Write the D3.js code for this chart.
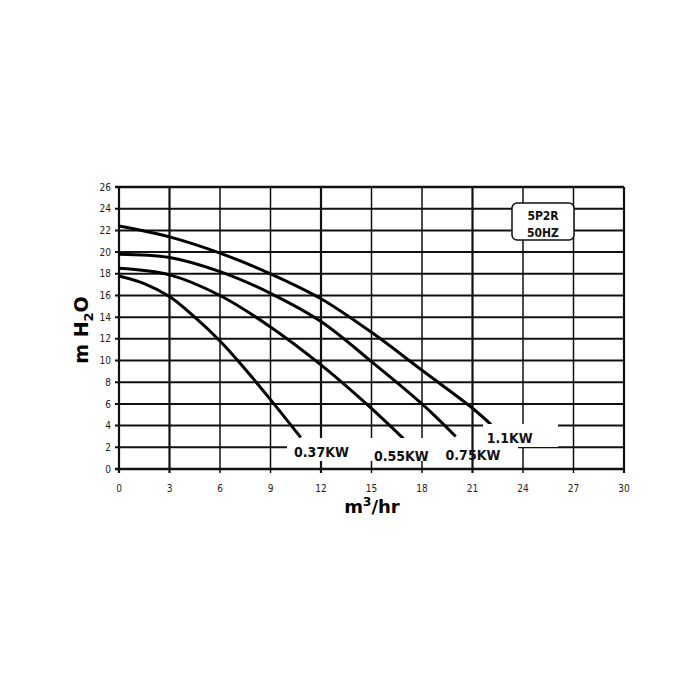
<!DOCTYPE html>
<html>
<head>
<meta charset="utf-8">
<script src="https://cdn.jsdelivr.net/npm/d3@7"></script>
<style>
  html, body { margin: 0; padding: 0; background: #fff; }
  svg { display: block; }
</style>
</head>
<body>
<script>
// Flow (m3/hr) and head (m H2O)
const xTicks = [0, 3, 6, 9, 12, 15, 18, 21, 24, 27, 30]
const yTicks = [0, 2, 4, 6, 8, 10, 12, 14, 16, 18, 20, 22, 24, 26]

const seriesNames = ['0.37KW', '0.55KW', '0.75KW', '1.1KW']
const flow037 = [0, 1.5, 3, 4.5, 6, 7.5, 9, 10.8]
const head037 = [17.8, 17.1, 15.9, 14.0, 11.8, 9.2, 6.4, 2.9]
const flow055 = [0, 3, 6, 9, 12, 14.7, 16.9]
const head055 = [18.5, 17.9, 16.0, 13.1, 9.6, 6.0, 2.8]
const flow075 = [0, 3, 6, 9, 12, 15, 18, 20]
const head075 = [19.8, 19.5, 18.2, 16.2, 13.6, 9.9, 6.0, 3.0]
const flow110 = [0, 3, 6, 9, 12, 15, 18, 21, 22.1]
const head110 = [22.4, 21.4, 19.9, 18.0, 15.7, 12.6, 9.1, 5.6, 4.1]

// where each power label sits, in chart units (left, baseline)
const labelFlow = [10.4, 15.15, 19.4, 21.85]
const labelHead = [1.1, 0.74, 0.83, 2.37]

const modelLines = ['5P2R', '50HZ']

const width = 700, height = 700

const svg = d3.select('body').append('svg')
	.attr('width', width).attr('height', height)

const x = d3.scaleLinear().domain([0, 30]).range([119, 624])
const y = d3.scaleLinear().domain([0, 26]).range([469, 187])

const ink = '#111'
const thickX = [0, 3, 12, 21, 30]

// Horizontal grid
svg.append('g').selectAll('line')
	.data(yTicks)
	.join('line')
		.attr('x1', x(0) - 4).attr('x2', x(30))
		.attr('y1', d => y(d)).attr('y2', d => y(d))
		.style('stroke', ink)
		.style('stroke-width', d => (d == 0 || d == 26) ? 2.4 : 2)

// Vertical grid
svg.append('g').selectAll('line')
	.data(xTicks)
	.join('line')
		.attr('x1', d => x(d)).attr('x2', d => x(d))
		.attr('y1', y(26)).attr('y2', y(0) + 4)
		.style('stroke', ink)
		.style('stroke-width', d => thickX.includes(d) ? 2.2 : 1.5)

// Tick labels
svg.append('g').selectAll('text')
	.data(yTicks)
	.join('text')
		.attr('x', x(0) - 8).attr('y', d => y(d))
		.attr('dy', '0.36em')
		.attr('text-anchor', 'end')
		.style('font', '10px "DejaVu Sans Condensed", "DejaVu Sans", sans-serif')
		.style('fill', '#222')
		.text(d => d)

svg.append('g').selectAll('text')
	.data(xTicks)
	.join('text')
		.attr('x', d => x(d)).attr('y', y(0) + 23)
		.attr('text-anchor', 'middle')
		.style('font', '10px "DejaVu Sans Condensed", "DejaVu Sans", sans-serif')
		.style('fill', '#222')
		.text(d => d)

// Curves
const curves = [
	d3.zip(flow037, head037),
	d3.zip(flow055, head055),
	d3.zip(flow075, head075),
	d3.zip(flow110, head110)
]

const line = d3.line()
	.x(d => x(d[0])).y(d => y(d[1]))
	.curve(d3.curveCatmullRom.alpha(0.5))

svg.append('g').selectAll('path')
	.data(curves)
	.join('path')
		.attr('d', line)
		.style('fill', 'none')
		.style('stroke', '#000')
		.style('stroke-width', 3)

// White band behind the bottom labels, and box behind 1.1KW
svg.append('rect')
	.attr('x', 287).attr('y', 438)
	.attr('width', 231).attr('height', 23)
	.style('fill', '#fff')

svg.append('rect')
	.attr('x', 483).attr('y', 424)
	.attr('width', 75).attr('height', 23)
	.style('fill', '#fff')

// the 21 line runs through the 0.75KW label
svg.append('line')
	.attr('x1', x(21)).attr('x2', x(21))
	.attr('y1', 438).attr('y2', 461)
	.style('stroke', ink).style('stroke-width', 2.2)

svg.append('g').selectAll('text')
	.data(seriesNames)
	.join('text')
		.attr('x', (d, i) => x(labelFlow[i]))
		.attr('y', (d, i) => y(labelHead[i]))
		.style('font', 'bold 14px "DejaVu Sans Condensed", "DejaVu Sans", sans-serif')
		.style('fill', '#111')
		.text(d => d)

// Model box
svg.append('rect')
	.attr('x', 512).attr('y', 203)
	.attr('width', 62).attr('height', 37)
	.attr('rx', 5)
	.style('fill', '#fff')
	.style('stroke', '#111').style('stroke-width', 1.5)

svg.append('g').selectAll('text')
	.data(modelLines)
	.join('text')
		.attr('x', 543)
		.attr('y', (d, i) => 220 + i * 16.5)
		.attr('text-anchor', 'middle')
		.style('font', 'bold 12px "DejaVu Sans Condensed", "DejaVu Sans", sans-serif')
		.style('fill', '#111')
		.text(d => d)

// Axis titles
const yTitle = svg.append('text')
	.attr('transform', `translate(88 ${(y(0) + y(26)) / 2 + 2}) rotate(-90)`)
	.attr('text-anchor', 'middle')
	.style('font', 'bold 19px "DejaVu Sans", sans-serif')
	.style('fill', '#000')
yTitle.append('tspan').text('m H')
yTitle.append('tspan').attr('dy', 5).style('font-size', '13px').text('2')
yTitle.append('tspan').attr('dy', -5).text('O')

const xTitle = svg.append('text')
	.attr('x', 372).attr('y', 513)
	.attr('text-anchor', 'middle')
	.style('font', 'bold 18px "DejaVu Sans", sans-serif')
	.style('fill', '#000')
xTitle.append('tspan').text('m')
xTitle.append('tspan').attr('dy', -7).style('font-size', '12px').text('3')
xTitle.append('tspan').attr('dy', 7).text('/hr')
</script>
</body>
</html>
